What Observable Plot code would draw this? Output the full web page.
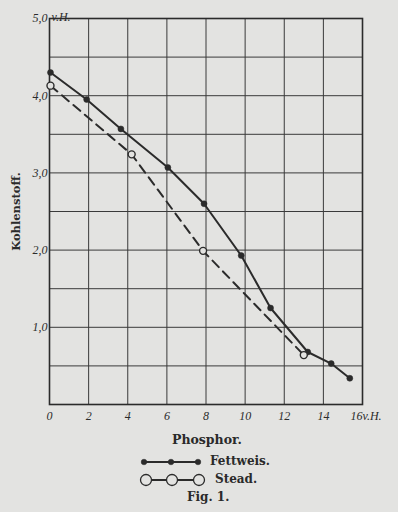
<!DOCTYPE html>
<html>
<head>
<meta charset="utf-8">
<script src="https://cdn.jsdelivr.net/npm/d3@7"></script>
<script src="https://cdn.jsdelivr.net/npm/@observablehq/plot@0.6"></script>
<style>
  html, body { margin: 0; padding: 0; background: #e3e3e1; }
  #wrap { position: relative; width: 398px; height: 512px; background: #e3e3e1; overflow: hidden; }
  .lbl { position: absolute; font-family: "DejaVu Serif", serif; font-weight: bold; color: #2a2a2a; font-size: 11.5px; white-space: nowrap; }
</style>
</head>
<body>
<div id="wrap"></div>
<script>
// Data
const xTicks = [0, 2, 4, 6, 8, 10, 12, 14];
const xTickLabels = ["0", "2", "4", "6", "8", "10", "12", "14"];
const yTicks = [1, 2, 3, 4, 5];
const yTickLabels = ["1,0", "2,0", "3,0", "4,0", "5,0"];
const fettweisPhosphor = [0.05, 1.9, 3.65, 6.05, 7.9, 9.8, 11.3, 13.2, 14.4, 15.35];
const fettweisKohlenstoff = [4.3, 3.95, 3.57, 3.07, 2.6, 1.93, 1.25, 0.68, 0.53, 0.34];
const steadPhosphor = [0.05, 4.2, 7.85, 13.0];
const steadKohlenstoff = [4.13, 3.24, 1.99, 0.64];
const seriesNames = ["Fettweis.", "Stead."];
const xLabel = "Phosphor.";
const yLabel = "Kohlenstoff.";
const caption = "Fig. 1.";

const fettweis = fettweisPhosphor.map((p, i) => ({p, c: fettweisKohlenstoff[i]}));
const stead = steadPhosphor.map((p, i) => ({p, c: steadKohlenstoff[i]}));
const ink = "#2b2b2b";
const paper = "#e3e3e1";
const handFont = "Liberation Serif";

const chart = Plot.plot({
  width: 398,
  height: 430,
  marginTop: 18,
  marginBottom: 26,
  marginLeft: 49,
  marginRight: 36,
  style: {background: "transparent", color: ink, fontFamily: handFont, fontStyle: "italic", fontSize: "12px"},
  x: {domain: [0, 16], axis: null},
  y: {domain: [0, 5], axis: null},
  marks: [
    Plot.gridX({interval: 2, stroke: "#3a3a3a", strokeOpacity: 1, strokeWidth: 1}),
    Plot.gridY({interval: 0.5, stroke: "#3a3a3a", strokeOpacity: 1, strokeWidth: 1}),
    Plot.frame({stroke: ink, strokeWidth: 1.6}),
    Plot.axisX({ticks: xTicks, label: null, tickSize: 0, tickPadding: 7, tickFormat: (d) => xTickLabels[xTicks.indexOf(d)], fontStyle: "italic"}),
    Plot.text([16], {x: (d) => d, y: () => 0, text: () => "16v.H.", textAnchor: "start", dx: -12, dy: 12, fontStyle: "italic", fontSize: 12}),
    Plot.axisY({ticks: yTicks, label: null, tickSize: 0, tickPadding: 2, tickFormat: (d) => yTickLabels[yTicks.indexOf(d)], fontStyle: "italic"}),
    Plot.axisY({ticks: [], label: yLabel, labelAnchor: "center", labelArrow: "none", labelOffset: 38, tickSize: 0, fontFamily: "DejaVu Serif", fontStyle: "normal", fontWeight: "bold", fontSize: 11.5}),
    Plot.text([5], {x: () => 0, y: (d) => d, text: () => "v.H.", textAnchor: "start", dx: 2, dy: -1, fontStyle: "italic", fontSize: 12}),
    Plot.line(stead, {x: "p", y: "c", stroke: ink, strokeWidth: 2, strokeDasharray: "9,6"}),
    Plot.line(fettweis, {x: "p", y: "c", stroke: ink, strokeWidth: 2}),
    Plot.dot(fettweis, {x: "p", y: "c", r: 3, fill: ink, stroke: ink, strokeWidth: 0.5}),
    Plot.dot(stead, {x: "p", y: "c", r: 3.5, fill: paper, stroke: ink, strokeWidth: 1.4})
  ]
});
const wrap = document.getElementById("wrap");
chart.style.position = "absolute";
chart.style.left = "0px";
chart.style.top = "0px";
wrap.appendChild(chart);

function label(text, left, top, size) {
  const d = document.createElement("div");
  d.className = "lbl";
  d.textContent = text;
  d.style.left = left + "px";
  d.style.top = top + "px";
  if (size) d.style.fontSize = size + "px";
  wrap.appendChild(d);
  return d;
}
label(xLabel, 172, 432, 12.5);

// legend symbols
function legendSymbol(top, filled) {
  const ns = "http://www.w3.org/2000/svg";
  const s = document.createElementNS(ns, "svg");
  s.setAttribute("width", 70);
  s.setAttribute("height", 16);
  s.style.position = "absolute";
  s.style.left = "138px";
  s.style.top = top + "px";
  const xs = filled ? [6, 33, 60] : [8, 34, 61];
  const ln = document.createElementNS(ns, "line");
  ln.setAttribute("x1", xs[0]); ln.setAttribute("x2", xs[2]);
  ln.setAttribute("y1", 8); ln.setAttribute("y2", 8);
  ln.setAttribute("stroke", ink); ln.setAttribute("stroke-width", 2);
  s.appendChild(ln);
  xs.forEach((x) => {
    const c = document.createElementNS(ns, "circle");
    c.setAttribute("cx", x); c.setAttribute("cy", 8);
    c.setAttribute("r", filled ? 2.8 : 5.5);
    c.setAttribute("fill", filled ? ink : paper);
    c.setAttribute("stroke", ink);
    c.setAttribute("stroke-width", filled ? 0.5 : 1.3);
    s.appendChild(c);
  });
  wrap.appendChild(s);
}
legendSymbol(454, true);
label(seriesNames[0], 210, 454, 12);
legendSymbol(472, false);
label(seriesNames[1], 215, 472, 12);
label(caption, 187, 490, 12);
</script>
</body>
</html>
